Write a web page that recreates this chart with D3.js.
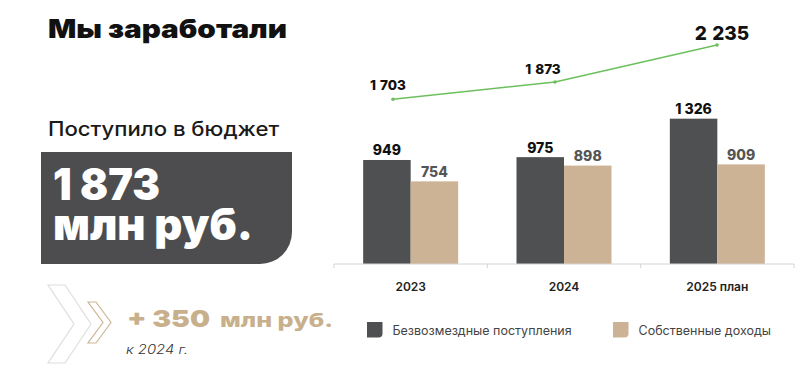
<!DOCTYPE html>
<html>
<head>
<meta charset="utf-8">
<script src="https://cdn.jsdelivr.net/npm/d3@7"></script>
<style>
  body { margin: 0; background: #fff; }
  svg { display: block; font-family: Inter, 'DejaVu Sans', sans-serif; }
</style>
</head>
<body>
<svg width="800" height="376"></svg>
<script>
const years = ['2023', '2024', '2025 план'];
const seriesNames = ['Безвозмездные поступления', 'Собственные доходы'];
const grants = [949, 975, 1326];
const ownIncome = [754, 898, 909];
const totals = [1703, 1873, 2235];
const budgetTotal = 1873;
const growth = 350;
const growthBase = '2024';

const colors = ['#4f5052', '#cdb396'];
const labelColors = ['#111', '#555'];
const fmt = d3.formatLocale({ decimal: ',', thousands: ' ', grouping: [3], currency: ['', ''] }).format(',d');

const svg = d3.select('svg');
svg.append('rect').attr('width', 800).attr('height', 376).attr('fill', '#fff');

// left panel
svg.append('text')
  .attr('x', 48).attr('y', 38)
  .attr('textLength', 239).attr('lengthAdjust', 'spacingAndGlyphs')
  .style('font-size', '26px').style('font-weight', 900).attr('fill', '#111')
  .text('Мы заработали');

svg.append('text')
  .attr('x', 48).attr('y', 136)
  .attr('textLength', 231).attr('lengthAdjust', 'spacingAndGlyphs')
  .style('font-size', '20px').style('font-weight', 500).attr('fill', '#1a1a1a')
  .text('Поступило в бюджет');

svg.append('path')
  .attr('d', 'M41,152 H292 V232 A32,32 0 0 1 260,264 H41 Z')
  .attr('fill', '#4d4d4f');

const bigText = svg.append('text')
  .style('font-size', '44px').style('font-weight', 900).attr('fill', '#fff');
bigText.append('tspan')
  .attr('x', 53).attr('y', 200)
  .attr('textLength', 107).attr('lengthAdjust', 'spacingAndGlyphs')
  .text(fmt(budgetTotal));
bigText.append('tspan')
  .attr('x', 53).attr('y', 240)
  .attr('textLength', 200).attr('lengthAdjust', 'spacingAndGlyphs')
  .text('млн руб.');

// chevrons
const chevron = (x, y, w, h, t) =>
  `M${x},${y} H${x + t} L${x + t + w},${y + h / 2} L${x + t},${y + h} H${x} L${x + w},${y + h / 2} Z`;

svg.append('path')
  .attr('d', chevron(48, 285, 26, 78, 17))
  .attr('fill', 'none').attr('stroke', '#dedede').attr('stroke-width', 1.2);

svg.append('path')
  .attr('d', chevron(88, 302, 15, 41, 8))
  .attr('fill', 'none').attr('stroke', '#cdb596').attr('stroke-width', 1.2);

svg.append('text')
  .attr('x', 127).attr('y', 327)
  .attr('textLength', 83).attr('lengthAdjust', 'spacingAndGlyphs')
  .style('font-size', '23px').style('font-weight', 900).attr('fill', '#c9b08c')
  .text(`+ ${growth}`);

svg.append('text')
  .attr('x', 220).attr('y', 327)
  .attr('textLength', 113).attr('lengthAdjust', 'spacingAndGlyphs')
  .style('font-size', '19px').style('font-weight', 800).attr('fill', '#c9b08c')
  .text('млн руб.');

svg.append('text')
  .attr('x', 126).attr('y', 354)
  .attr('textLength', 62).attr('lengthAdjust', 'spacingAndGlyphs')
  .style('font-size', '12.5px').style('font-style', 'italic').style('font-weight', 300).attr('fill', '#333')
  .text(`к ${growthBase} г.`);

// bar chart
const barData = years.map((year, i) => ({ year, values: [grants[i], ownIncome[i]] }));

const x0 = d3.scaleBand().domain(years).range([334, 794]);
const x1 = d3.scaleBand().domain(d3.range(seriesNames.length))
  .range([x0.bandwidth() / 2 - 47.5, x0.bandwidth() / 2 + 47.5]);
const y = d3.scaleLinear().domain([0, 1400]).range([264, 264 - 0.1096 * 1400]);

const groups = svg.append('g').selectAll('.group')
  .data(barData)
  .join('g')
  .attr('class', 'group')
  .attr('transform', (d) => `translate(${x0(d.year)},0)`);

groups.selectAll('rect')
  .data((d) => d.values)
  .join('rect')
  .attr('x', (d, i) => x1(i))
  .attr('y', (d) => y(d))
  .attr('width', x1.bandwidth())
  .attr('height', (d) => y(0) - y(d))
  .attr('fill', (d, i) => colors[i]);

groups.selectAll('text')
  .data((d) => d.values)
  .join('text')
  .attr('x', (d, i) => x1(i) + x1.bandwidth() / 2)
  .attr('y', (d) => y(d) - 4.5)
  .attr('text-anchor', 'middle')
  .style('font-size', '14px').style('font-weight', 800)
  .attr('fill', (d, i) => labelColors[i])
  .text((d) => fmt(d));

// axis
const axis = svg.append('g').attr('transform', `translate(0,${y(0)})`);
axis.append('line')
  .attr('x1', x0.range()[0]).attr('x2', x0.range()[1])
  .attr('stroke', '#d4d4d4');
axis.selectAll('.edge')
  .data([...years.map((d) => x0(d)), x0.range()[1]])
  .join('line')
  .attr('class', 'edge')
  .attr('x1', (d) => d).attr('x2', (d) => d)
  .attr('y1', 0).attr('y2', 4)
  .attr('stroke', '#d4d4d4');
axis.selectAll('.tick-label')
  .data(years)
  .join('text')
  .attr('class', 'tick-label')
  .attr('x', (d) => x0(d) + x0.bandwidth() / 2)
  .attr('y', 27)
  .attr('text-anchor', 'middle')
  .style('font-size', '12px').style('font-weight', 600).attr('fill', '#222')
  .text((d) => d);

// total line
const xl = d3.scalePoint().domain(years).range([393, 717]);
const yl = d3.scaleLinear().domain([0, 2500]).range([273, 18]);

const line = d3.line()
  .x((d, i) => xl(years[i]))
  .y((d) => yl(d));

svg.append('path')
  .datum(totals)
  .attr('d', line)
  .attr('fill', 'none')
  .attr('stroke', '#6cbf5d')
  .attr('stroke-width', 1.5)
  .attr('stroke-linejoin', 'round');

svg.selectAll('.dot')
  .data(totals)
  .join('circle')
  .attr('class', 'dot')
  .attr('cx', (d, i) => xl(years[i]))
  .attr('cy', (d) => yl(d))
  .attr('r', 1.8)
  .attr('fill', '#6cbf5d');

const totalNudge = [[-5, -9, 13.5], [-12, -8, 13.5], [5, -5, 19]];
svg.selectAll('.total-label')
  .data(totals)
  .join('text')
  .attr('class', 'total-label')
  .attr('x', (d, i) => xl(years[i]) + totalNudge[i][0])
  .attr('y', (d, i) => yl(d) + totalNudge[i][1])
  .attr('text-anchor', 'middle')
  .style('font-size', (d, i) => `${totalNudge[i][2]}px`)
  .style('font-weight', 800)
  .style('word-spacing', '1px')
  .attr('fill', '#111')
  .text((d) => fmt(d));

// legend
const legend = svg.append('g').selectAll('.legend')
  .data(seriesNames)
  .join('g')
  .attr('class', 'legend')
  .attr('transform', (d, i) => `translate(${[367, 613][i]},322)`);

legend.append('path')
  .attr('d', 'M0,0 H15.5 V11.5 A4,4 0 0 1 11.5,15.5 H0 Z')
  .attr('fill', (d, i) => colors[i]);

legend.append('text')
  .attr('x', 25.5).attr('y', 13)
  .style('font-size', '12.5px').attr('fill', '#444')
  .text((d) => d);
</script>
</body>
</html>
